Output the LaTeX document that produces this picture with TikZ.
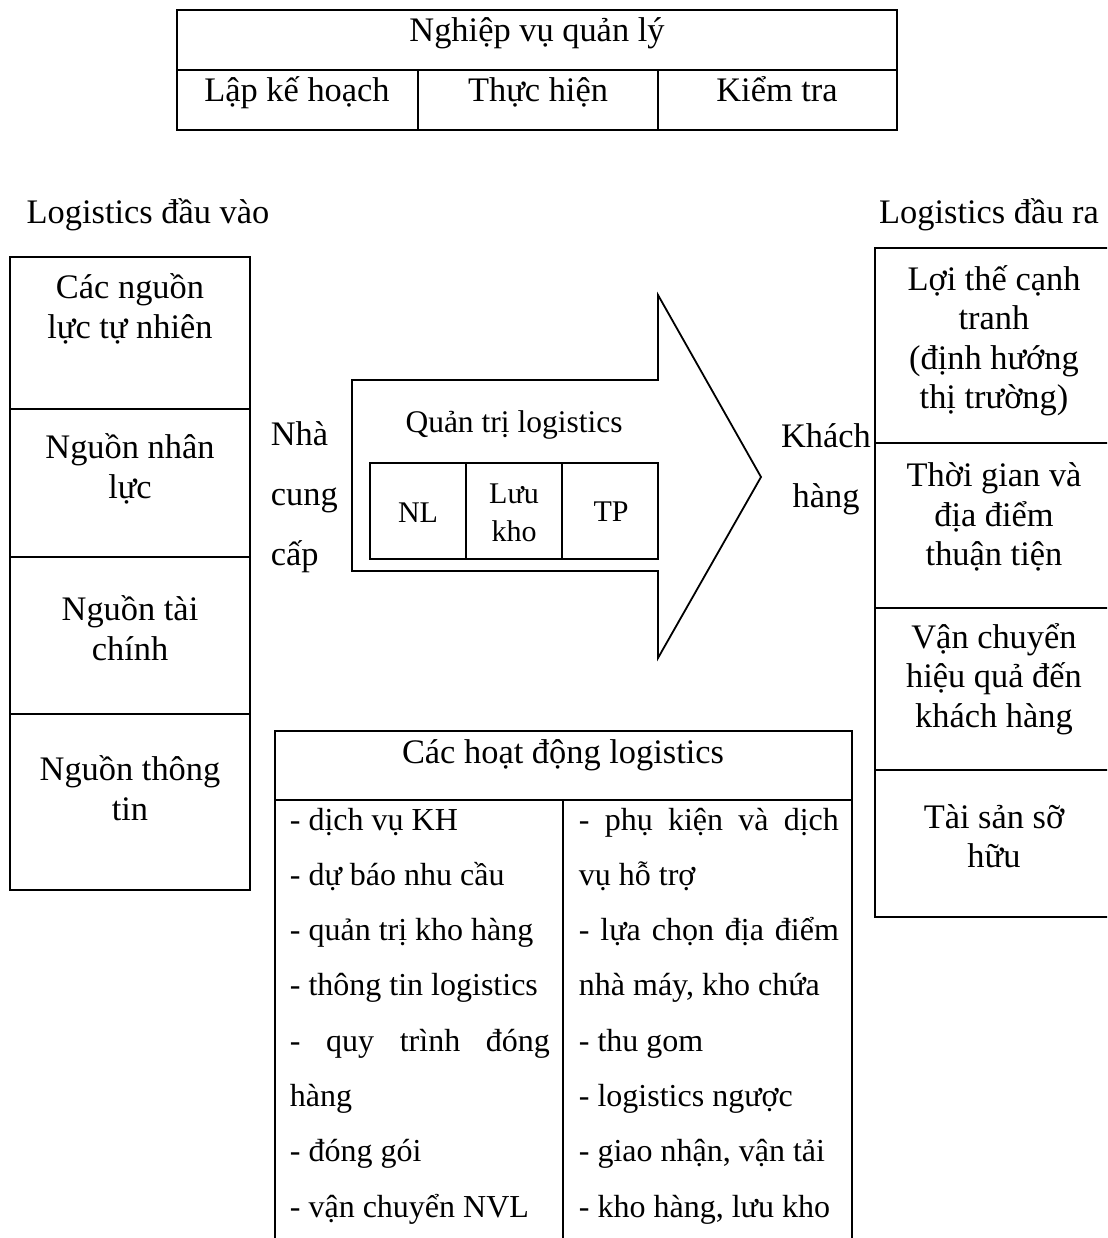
\documentclass[tikz,border=0pt]{standalone}
\usepackage{fontspec}
\setmainfont{Liberation Serif}
\begin{document}
\begin{tikzpicture}[x=1pt,y=-1pt,line width=1.8pt,line join=miter,
  lbl/.style={inner sep=0pt,align=center,font=\fontsize{34.4}{39.5}\selectfont},
  line/.style={inner sep=0pt,anchor=base,font=\fontsize{34.4}{39.5}\selectfont},
  wide/.style={inner sep=0pt,font=\fontsize{34.4}{60}\selectfont},
  cell/.style={inner sep=0pt,align=center,font=\fontsize{30}{38}\selectfont},
  item/.style={inner sep=0pt,anchor=base west,font=\fontsize{32}{38}\selectfont}]
\useasboundingbox (0,0) rectangle (1107,1238);
\fill[white] (0,0) rectangle (1107,1238);
\begin{scope}
\clip (0,0) rectangle (1107,1238);

% management functions table
\draw (177,10) rectangle (897,130);
\draw (177,70) -- (897,70);
\draw (418,70) -- (418,130);
\draw (658,70) -- (658,130);
\node[line] (mgmt) at (537,42) {Nghiệp vụ quản lý};
\node[line] (plan) at (297,102) {Lập kế hoạch};
\node[line] (exec) at (538,102) {Thực hiện};
\node[line] (ctrl) at (777,102) {Kiểm tra};

% inbound logistics column
\node[line] (inTitle) at (148,224) {Logistics đầu vào};
\draw (10,257) rectangle (250,890);
\draw (10,409) -- (250,409);
\draw (10,557) -- (250,557);
\draw (10,714) -- (250,714);
\node[lbl] (in1) at (130,309) {Các nguồn\\lực tự nhiên};
\node[lbl] (in2) at (130,469) {Nguồn nhân\\lực};
\node[lbl] (in3) at (130,628) {Nguồn tài\\chính};
\node[lbl] (in4) at (130,788) {Nguồn thông\\tin};

\node[wide,align=left,anchor=west] (supplier) at (270,497) {Nhà\\cung\\cấp};

% central arrow
\draw (352,380) -- (658,380) -- (658,295) -- (761,477) -- (658,658)
      -- (658,571) -- (352,571) -- cycle;
\node[inner sep=0pt,anchor=base,font=\fontsize{31.5}{38}\selectfont] (core) at (514,432) {Quản trị logistics};
\draw (370,463) rectangle (658,559);
\draw (466,463) -- (466,559);
\draw (562,463) -- (562,559);
\node[cell,anchor=base] (nl) at (418,522) {NL};
\node[cell] (store) at (514,513) {Lưu\\kho};
\node[cell,anchor=base] (tp) at (611,521) {TP};

\node[wide,align=center] (customer) at (826,469) {Khách\\hàng};

% outbound logistics column
\node[line] (outTitle) at (989,224) {Logistics đầu ra};
\draw (875,248) rectangle (1113,917);
\draw (875,443) -- (1113,443);
\draw (875,608) -- (1113,608);
\draw (875,770) -- (1113,770);
\node[lbl] (out1) at (994,341) {Lợi thế cạnh\\tranh\\(định hướng\\thị trường)};
\node[lbl] (out2) at (994,517) {Thời gian và\\địa điểm\\thuận tiện};
\node[lbl] (out3) at (994,679) {Vận chuyển\\hiệu quả đến\\khách hàng};
\node[lbl] (out4) at (994,836) {Tài sản sỡ\\hữu};

% logistics activities table
\draw (275,1245) -- (275,731) -- (852,731) -- (852,1245);
\draw (275,800) -- (852,800);
\draw (563,800) -- (563,1245);
\node[line] (actTitle) at (563,763) {Các hoạt động logistics};

\foreach \t [count=\i] in {{- dịch vụ KH},{- dự báo nhu cầu},{- quản trị kho hàng},
    {- thông tin logistics},{\makebox[260pt][s]{- quy trình đóng}},{hàng},
    {- đóng gói},{- vận chuyển NVL}}
  \node[item] (L\i) at (289,{830+(\i-1)*55.3}) {\t};

\foreach \t [count=\i] in {{\makebox[260pt][s]{- phụ kiện và dịch}},{vụ hỗ trợ},
    {\makebox[260pt][s]{- lựa chọn địa điểm}},{nhà máy, kho chứa},{- thu gom},
    {- logistics ngược},{- giao nhận, vận tải},{- kho hàng, lưu kho}}
  \node[item] (R\i) at (578,{830+(\i-1)*55.3}) {\t};
\end{scope}
\end{tikzpicture}
\end{document}
